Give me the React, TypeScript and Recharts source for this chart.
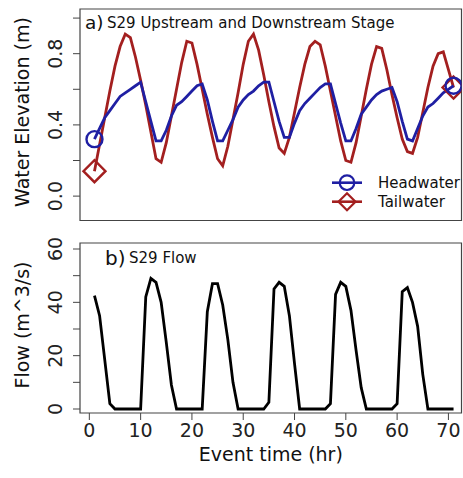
import { LineChart, Line, XAxis, YAxis, ReferenceArea } from 'recharts'

// hourly record, S29 structure
const hours = [
  1, 2, 3, 4, 5, 6, 7, 8, 9, 10, 11, 12, 13, 14, 15, 16, 17, 18, 19, 20,
  21, 22, 23, 24, 25, 26, 27, 28, 29, 30, 31, 32, 33, 34, 35, 36, 37, 38, 39, 40,
  41, 42, 43, 44, 45, 46, 47, 48, 49, 50, 51, 52, 53, 54, 55, 56, 57, 58, 59, 60,
  61, 62, 63, 64, 65, 66, 67, 68, 69, 70, 71,
]

const headwater = [
  0.32, 0.38, 0.44, 0.48, 0.52, 0.56, 0.58, 0.6, 0.62, 0.64,
  0.53, 0.42, 0.31, 0.31, 0.37, 0.45, 0.51, 0.53, 0.56, 0.59,
  0.62, 0.63, 0.54, 0.42, 0.31, 0.31, 0.37, 0.43, 0.5, 0.54,
  0.57, 0.59, 0.62, 0.64, 0.64, 0.53, 0.42, 0.33, 0.33, 0.41,
  0.48, 0.52, 0.55, 0.58, 0.61, 0.63, 0.63, 0.52, 0.41, 0.31,
  0.31, 0.38, 0.46, 0.5, 0.54, 0.57, 0.59, 0.6, 0.61, 0.53,
  0.42, 0.32, 0.31, 0.38, 0.45, 0.5, 0.52, 0.55, 0.58, 0.6,
  0.62,
]

const tailwater = [
  0.14, 0.29, 0.44, 0.59, 0.73, 0.84, 0.91, 0.89, 0.78, 0.65,
  0.51, 0.36, 0.21, 0.19, 0.3, 0.45, 0.6, 0.75, 0.87, 0.86,
  0.74, 0.6, 0.46, 0.33, 0.21, 0.17, 0.28, 0.43, 0.58, 0.74,
  0.87, 0.91, 0.82, 0.68, 0.53, 0.39, 0.27, 0.24, 0.33, 0.47,
  0.61, 0.74, 0.84, 0.87, 0.85, 0.73, 0.59, 0.45, 0.31, 0.2,
  0.19, 0.3, 0.45, 0.6, 0.74, 0.84, 0.83, 0.71, 0.57, 0.44,
  0.32, 0.25, 0.24, 0.33, 0.47, 0.61, 0.73, 0.8, 0.81, 0.71,
  0.61,
]

const flow = [
  42.5, 35, 18.5, 2, 0, 0, 0, 0, 0, 0,
  42, 49, 47.5, 40, 25, 9, 0, 0, 0, 0,
  0, 0, 36.5, 47, 47, 39, 26, 10, 0, 0,
  0, 0, 0, 0, 2.5, 45, 47.5, 46, 35, 17,
  0, 0, 0, 0, 0, 0, 2, 43, 47.5, 46,
  37, 22, 8, 0, 0, 0, 0, 0, 0, 2,
  44, 45.5, 40, 31, 13, 0, 0, 0, 0, 0,
  0,
]

const stageTicks = [0, 0.2, 0.4, 0.6, 0.8, 1.0]
const stageLabels = [0, 0.4, 0.8]
const flowTicks = [0, 10, 20, 30, 40, 50, 60]
const flowLabels = [0, 20, 40, 60]
const timeTicks = [0, 10, 20, 30, 40, 50, 60, 70]

const X_DOMAIN = [-1.82, 72.55]
const STAGE_DOMAIN = [-0.137, 1.051]
const FLOW_DOMAIN = [-1.5, 62.25]

const FONT = '"DejaVu Sans", sans-serif'
const RED = '#a31f1f'
const BLUE = '#1f1fa3'
const FRAME = '#444'

const stageRows = hours.map((t, i) => ({ t, head: headwater[i], tail: tailwater[i] }))
const flowRows = hours.map((t, i) => ({ t, q: flow[i] }))

const makeYTick = (labels: number[], fmt: (v: number) => string) => (props: any) => {
  const { x, y, payload } = props
  if (!labels.some((l) => Math.abs(l - payload.value) < 1e-9)) return <g />
  const bx = x - 9
  return (
    <text x={bx} y={y} transform={`rotate(-90 ${bx} ${y})`} textAnchor="middle"
      fontSize={19} fill="#222" fontFamily={FONT}>
      {fmt(payload.value)}
    </text>
  )
}

const TimeTick = (props: any) => {
  const { x, y, payload } = props
  return (
    <text x={x} y={y + 15} textAnchor="middle" fontSize={19} fill="#222" fontFamily={FONT}>
      {payload.value}
    </text>
  )
}

const edgeDot = (shape: 'circle' | 'diamond', color: string, r: number) => (props: any) => {
  const { cx, cy, index } = props
  if (index !== 0 && index !== hours.length - 1) return <g key={`e${index}`} />
  if (shape === 'circle')
    return <circle key={`c${index}`} cx={cx} cy={cy} r={r} fill="none" stroke={color} strokeWidth={2.4} />
  return (
    <path key={`d${index}`}
      d={`M${cx},${cy - r} L${cx + r},${cy} L${cx},${cy + r} L${cx - r},${cy} Z`}
      fill="none" stroke={color} strokeWidth={2.4} />
  )
}

export default function App() {
  return (
    <div style={{ position: 'absolute', left: 0, top: 0, width: 463, height: 478, background: '#fff', fontFamily: FONT }}>
      {/* a) stage */}
      <div style={{ position: 'absolute', left: 0, top: 0 }}>
        <LineChart width={463} height={232} data={stageRows} margin={{ top: 9, right: 1.5, bottom: 11.5, left: 0 }}>
          <XAxis dataKey="t" type="number" domain={X_DOMAIN} allowDataOverflow hide />
          <YAxis type="number" domain={STAGE_DOMAIN} allowDataOverflow width={80} ticks={stageTicks}
            interval={0} axisLine={false} tickSize={7} tickLine={{ stroke: FRAME }}
            tick={makeYTick(stageLabels, (v) => v.toFixed(1))} />
          <ReferenceArea x1={X_DOMAIN[0]} x2={X_DOMAIN[1]} y1={STAGE_DOMAIN[0]} y2={STAGE_DOMAIN[1]}
            fill="none" stroke={FRAME} strokeWidth={1.2} ifOverflow="visible" />
          <Line type="linear" dataKey="tail" stroke={RED} strokeWidth={2.8} isAnimationActive={false}
            dot={edgeDot('diamond', RED, 11)} activeDot={false} />
          <Line type="linear" dataKey="head" stroke={BLUE} strokeWidth={2.8} isAnimationActive={false}
            dot={edgeDot('circle', BLUE, 8)} activeDot={false} />
        </LineChart>
      </div>

      {/* b) flow */}
      <div style={{ position: 'absolute', left: 0, top: 232 }}>
        <LineChart width={463} height={246} data={flowRows} margin={{ top: 11, right: 1.5, bottom: 0, left: 0 }}>
          <XAxis dataKey="t" type="number" domain={X_DOMAIN} allowDataOverflow ticks={timeTicks} interval={0}
            height={65} axisLine={false} tickSize={7} tickLine={{ stroke: FRAME }} tick={TimeTick} />
          <YAxis type="number" domain={FLOW_DOMAIN} allowDataOverflow width={80} ticks={flowTicks}
            interval={0} axisLine={false} tickSize={7} tickLine={{ stroke: FRAME }}
            tick={makeYTick(flowLabels, (v) => String(v))} />
          <ReferenceArea x1={X_DOMAIN[0]} x2={X_DOMAIN[1]} y1={FLOW_DOMAIN[0]} y2={FLOW_DOMAIN[1]}
            fill="none" stroke={FRAME} strokeWidth={1.2} ifOverflow="visible" />
          <Line type="linear" dataKey="q" stroke="#000" strokeWidth={2.8} isAnimationActive={false}
            dot={false} activeDot={false} />
        </LineChart>
      </div>

      {/* titles, axis labels, legend */}
      <svg width={463} height={478} style={{ position: 'absolute', left: 0, top: 0, pointerEvents: 'none' }}
        fontFamily={FONT} fill="#111">
        <text x={85} y={28.5} fontSize={18.5}>a)</text>
        <text x={107} y={27.5} fontSize={15}>S29 Upstream and Downstream Stage</text>
        <text x={105} y={265} fontSize={20}>b)</text>
        <text x={129} y={262.7} fontSize={15}>S29 Flow</text>

        <text x={29} y={112} fontSize={19} textAnchor="middle" transform="rotate(-90 29 112)">Water Elevation (m)</text>
        <text x={29} y={325} fontSize={19} textAnchor="middle" transform="rotate(-90 29 325)">Flow (m^3/s)</text>
        <text x={270.8} y={461} fontSize={19} textAnchor="middle">Event time (hr)</text>

        <line x1={332} y1={182.7} x2={362} y2={182.7} stroke={BLUE} strokeWidth={2.6} />
        <circle cx={347} cy={182.7} r={7.3} fill="none" stroke={BLUE} strokeWidth={2.2} />
        <text x={378} y={188.3} fontSize={15}>Headwater</text>
        <line x1={332} y1={201.7} x2={362} y2={201.7} stroke={RED} strokeWidth={2.6} />
        <path d="M347,193.2 L355.5,201.7 L347,210.2 L338.5,201.7 Z" fill="none" stroke={RED} strokeWidth={2.2} />
        <text x={378} y={206.7} fontSize={15}>Tailwater</text>
      </svg>
    </div>
  )
}
